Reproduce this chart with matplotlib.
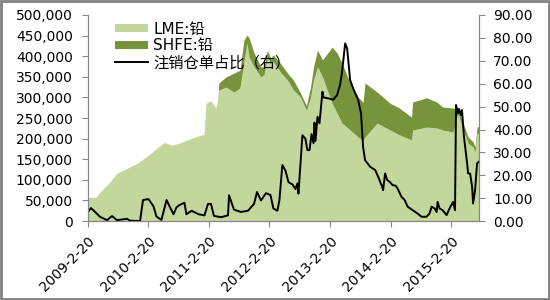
import numpy as np
import pandas as pd
import matplotlib
matplotlib.use('Agg')
import matplotlib.pyplot as plt
from matplotlib.ticker import FuncFormatter

plt.rcParams['font.family'] = ['DejaVu Sans', 'Noto Sans CJK SC']

# stocks (tonnes), stacked: LME at bottom, SHFE on top
area_dates = ['2009-02-20', '2009-04-09', '2009-05-03', '2009-07-03', '2009-08-14',
              '2009-10-13', '2009-12-13', '2010-02-20', '2010-04-21', '2010-05-28',
              '2010-07-09', '2010-09-07', '2010-11-07', '2011-01-06', '2011-01-21',
              '2011-02-02', '2011-03-04', '2011-04-03', '2011-04-15', '2011-04-21',
              '2011-06-03', '2011-07-21', '2011-08-26', '2011-09-19', '2011-10-07',
              '2011-10-20', '2011-11-19', '2011-12-31', '2012-01-18', '2012-02-08',
              '2012-02-26', '2012-03-15', '2012-04-26', '2012-06-08', '2012-07-14',
              '2012-08-25', '2012-09-30', '2012-10-25', '2012-11-12', '2012-12-06',
              '2013-01-05', '2013-03-04', '2013-04-03', '2013-05-03', '2013-06-21',
              '2013-08-08', '2013-09-07', '2013-09-19', '2013-12-01', '2014-02-17',
              '2014-04-15', '2014-06-27', '2014-07-03', '2014-09-25', '2014-11-25',
              '2014-12-31', '2015-03-04', '2015-04-03', '2015-05-03', '2015-06-03',
              '2015-07-03', '2015-07-15', '2015-07-27', '2015-08-08']
lme = [58, 58, 70, 95, 116,
       128, 140, 160, 180, 191,
       184, 191, 201, 209, 210,
       286, 292, 274, 300, 318,
       325, 313, 323, 386, 432,
       398, 374, 350, 355, 398,
       383, 386, 362, 342, 318,
       301, 269, 300, 342, 374,
       350, 286, 262, 238, 221,
       204, 195, 204, 238, 221,
       209, 197, 221, 228, 226,
       221, 216, 262, 221, 189,
       180, 167, 213, 213]
shfe = [0, 0, 0, 0, 0,
        0, 0, 0, 0, 0,
        0, 0, 0, 0, 0,
        0, 0, 0, 0, 17,
        25, 46, 43, 53, 19,
        47, 34, 24, 19, 17,
        13, 17, 21, 17, 24,
        10, 11, 25, 32, 41,
        41, 136, 146, 145, 114,
        97, 93, 131, 75, 65,
        65, 55, 68, 71, 63,
        56, 58, 12, 17, 15,
        12, 13, 15, 17]

# cancelled warrants ratio (%), right axis
ratio_dates = ['2009-02-20', '2009-03-10', '2009-03-22', '2009-05-03', '2009-06-15',
               '2009-07-15', '2009-08-14', '2009-10-13', '2009-11-01', '2009-12-31',
               '2010-01-18', '2010-02-20', '2010-03-22', '2010-04-09', '2010-05-09',
               '2010-06-09', '2010-06-27', '2010-07-21', '2010-08-08', '2010-08-26',
               '2010-09-25', '2010-10-07', '2010-11-07', '2010-12-19', '2011-01-24',
               '2011-02-14', '2011-03-04', '2011-03-22', '2011-05-03', '2011-06-15',
               '2011-06-21', '2011-07-21', '2011-09-01', '2011-10-13', '2011-11-19',
               '2011-12-07', '2011-12-31', '2012-01-30', '2012-02-26', '2012-03-15',
               '2012-04-08', '2012-04-20', '2012-05-08', '2012-05-27', '2012-06-14',
               '2012-07-08', '2012-07-26', '2012-08-07', '2012-08-13', '2012-09-06',
               '2012-09-24', '2012-10-06', '2012-10-19', '2012-10-31', '2012-11-12',
               '2012-11-18', '2012-11-24', '2012-12-06', '2012-12-18', '2013-01-05',
               '2013-01-11', '2013-02-10', '2013-03-10', '2013-04-03', '2013-04-21',
               '2013-05-03', '2013-05-22', '2013-06-03', '2013-06-21', '2013-07-09',
               '2013-07-27', '2013-08-08', '2013-08-26', '2013-09-07', '2013-09-19',
               '2013-10-20', '2013-11-19', '2013-12-07', '2013-12-31', '2014-01-06',
               '2014-01-18', '2014-01-30', '2014-02-17', '2014-03-04', '2014-03-22',
               '2014-04-03', '2014-04-27', '2014-05-16', '2014-06-03', '2014-07-03',
               '2014-08-02', '2014-08-26', '2014-09-25', '2014-10-13', '2014-10-26',
               '2014-11-13', '2014-11-25', '2014-12-01', '2014-12-13', '2014-12-31',
               '2015-01-24', '2015-02-11', '2015-03-04', '2015-03-16', '2015-03-22',
               '2015-04-03', '2015-04-09', '2015-04-21', '2015-04-27', '2015-05-09',
               '2015-05-28', '2015-06-03', '2015-06-15', '2015-06-27', '2015-07-03',
               '2015-07-15', '2015-07-27', '2015-08-08']
ratio = [4.0, 5.7, 4.9, 1.9, 0.4,
         2.2, 0.4, 1.0, 0.2, 0.0,
         9.2, 9.6, 6.5, 2.0, 0.5,
         9.2, 6.5, 3.0, 6.0, 7.0,
         8.0, 3.0, 4.5, 3.0, 2.5,
         7.5, 7.5, 2.3, 1.7, 2.5,
         11.3, 5.0, 4.0, 4.5, 7.5,
         12.7, 9.0, 12.2, 11.4, 5.5,
         4.5, 9.0, 24.5, 22.0, 17.0,
         16.0, 14.0, 16.5, 12.0, 37.5,
         36.0, 31.0, 31.0, 38.0, 34.0,
         43.0, 35.0, 45.6, 42.7, 56.5,
         54.0, 53.6, 53.0, 55.0, 59.4,
         65.0, 77.6, 75.4, 61.6, 58.0,
         55.0, 53.0, 47.0, 32.5, 26.6,
         23.7, 22.3, 19.4, 15.0, 13.5,
         20.8, 18.0, 17.0, 15.7, 15.5,
         14.3, 10.6, 9.2, 6.3, 4.8,
         3.3, 1.9, 1.9, 3.3, 6.3,
         5.5, 4.0, 8.4, 5.5, 4.8,
         2.6, 5.5, 8.4, 4.8, 50.7,
         47.0, 49.0, 46.3, 48.5, 36.8,
         25.2, 20.8, 20.8, 15.0, 7.7,
         13.5, 25.2, 26.0]

tick_labels = ['2009-2-20', '2010-2-20', '2011-2-20', '2012-2-20',
               '2013-2-20', '2014-2-20', '2015-2-20']

xa = pd.to_datetime(area_dates)
xr = pd.to_datetime(ratio_dates)
lme_t = np.array(lme) * 1000
shfe_t = np.array(shfe) * 1000

fig = plt.figure(figsize=(5.5, 3), dpi=100)
ax = fig.add_axes([0.16, 0.263, 0.711, 0.687])
ax2 = ax.twinx()

ax.fill_between(xa, 0, lme_t, color='#c3d69b', linewidth=0, label='LME:铅')
ax.fill_between(xa, lme_t, lme_t + shfe_t, color='#77933c', linewidth=0, label='SHFE:铅')
ax2.plot(xr, ratio, color='black', linewidth=1.4, label='注销仓单占比（右）')

ax.set_xlim(xa[0], xa[-1])
ax.set_ylim(0, 500000)
ax.set_yticks(np.arange(0, 500001, 50000))
ax.yaxis.set_major_formatter(FuncFormatter(lambda v, p: '{:,.0f}'.format(v)))
ax2.set_ylim(0, 90)
ax2.set_yticks(np.arange(0, 91, 10))
ax2.yaxis.set_major_formatter(FuncFormatter(lambda v, p: '{:.2f}'.format(v)))

ax.set_xticks(pd.to_datetime(tick_labels))
ax.set_xticklabels(tick_labels, rotation=45, ha='right', rotation_mode='anchor')

gray = '#868686'
for a in (ax, ax2):
    a.spines['top'].set_visible(False)
    for s in ('left', 'right', 'bottom'):
        a.spines[s].set_color(gray)
    a.tick_params(axis='both', colors=gray, labelcolor='black', labelsize=10,
                  length=4, width=0.8, direction='out')
ax.tick_params(axis='x', pad=5)
ax.tick_params(axis='y', pad=7)
ax2.tick_params(axis='y', pad=6)

h1, l1 = ax.get_legend_handles_labels()
h2, l2 = ax2.get_legend_handles_labels()
ax2.legend(h1 + h2, l1 + l2, loc='upper left', bbox_to_anchor=(0.035, 1.035),
           frameon=False, fontsize=11, handlelength=2.15, handleheight=0.45,
           labelspacing=0.12, handletextpad=0.33)

# outer frame
fig.patches.append(plt.Rectangle((0.002, 0.003), 0.996, 0.994, transform=fig.transFigure,
                                 fill=False, edgecolor='#808080', linewidth=2))

fig.savefig('out.png', dpi=100)
